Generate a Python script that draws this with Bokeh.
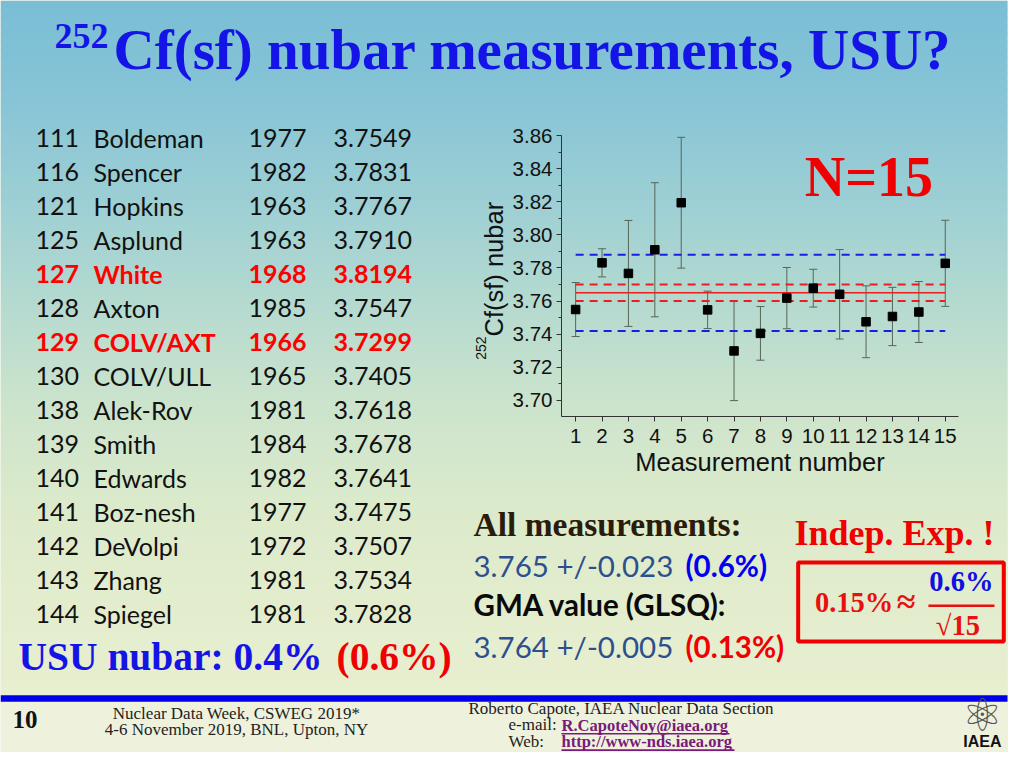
import math
from bokeh.plotting import figure
from bokeh.models import (Range1d, FixedTicker, Label, BoxAnnotation, Whisker,
                          TeeHead, ColumnDataSource, NumeralTickFormatter)
from bokeh.embed import file_html
from bokeh.resources import INLINE

# ---------------- data ----------------
ids = ["111", "116", "121", "125", "127", "128", "129", "130", "138", "139",
       "140", "141", "142", "143", "144"]
names = ["Boldeman", "Spencer", "Hopkins", "Asplund", "White", "Axton", "COLV/AXT",
         "COLV/ULL", "Alek-Rov", "Smith", "Edwards", "Boz-nesh", "DeVolpi", "Zhang",
         "Spiegel"]
years = [1977, 1982, 1963, 1963, 1968, 1985, 1966, 1965, 1981, 1984, 1982, 1977,
         1972, 1981, 1981]
nubar = [3.7549, 3.7831, 3.7767, 3.7910, 3.8194, 3.7547, 3.7299, 3.7405, 3.7618,
         3.7678, 3.7641, 3.7475, 3.7507, 3.7534, 3.7828]
highlight_ids = ["127", "129"]
meas = [1, 2, 3, 4, 5, 6, 7, 8, 9, 10, 11, 12, 13, 14, 15]
errors = [0.0163, 0.0085, 0.0320, 0.0405, 0.0395, 0.0113, 0.0300, 0.0162, 0.0185,
          0.0114, 0.0270, 0.0217, 0.0176, 0.0184, 0.0260]
MEAN = 3.765
UNC_ALL = 0.023
UNC_GMA = 0.005
y_ticks = [3.70, 3.72, 3.74, 3.76, 3.78, 3.80, 3.82, 3.84, 3.86]
y_minor = [3.71, 3.73, 3.75, 3.77, 3.79, 3.81, 3.83, 3.85]
X_LIM = (0.465, 15.49)
Y_LIM = (3.6903, 3.86)

# ---------------- layout ----------------
W, H = 1008, 752
KX = (W - 1 - 780) / (1024 - 780)
KY = (H - 690) / (768 - 690)
BASE_FIX = 0.39   # label anchor correction (fraction of font size)


def X(r):
    return r if r <= 780 else 780 + (r - 780) * KX


def Y(r):
    return r if r <= 690 else 690 + (r - 690) * KY


CL, CR, CT, CB = X(561), X(971), Y(135), Y(416)
kx = (X_LIM[1] - X_LIM[0]) / (CR - CL)
ky = (Y_LIM[1] - Y_LIM[0]) / (CB - CT)
x_range = Range1d(X_LIM[0] - CL * kx, X_LIM[1] + (W - CR) * kx)
y_range = Range1d(Y_LIM[0] - (H - CB) * ky, Y_LIM[1] + CT * ky)

RED = "#F00000"
BLUE = "#1414E6"
ERR = "#566656"
FOOT = "#EEF2DD"
LINK = "#7A1A7A"

p = figure(width=W, height=H, output_backend="svg", toolbar_location=None,
           x_range=x_range, y_range=y_range, min_border=0)
p.xgrid.visible = False
p.ygrid.visible = False
p.outline_line_color = None
p.background_fill_color = FOOT
p.border_fill_color = FOOT


def box(l, t, r, b, fill=None, line=None, lw=0, level="annotation"):
    p.add_layout(BoxAnnotation(left=X(l), right=X(r), top=H - Y(t), bottom=H - Y(b),
                               left_units="screen", right_units="screen",
                               top_units="screen", bottom_units="screen",
                               fill_color=fill, fill_alpha=1.0,
                               line_color=line, line_alpha=1.0, line_width=lw,
                               level=level))


def put(text, x, y, size, color, font="Lato", style="normal", align="left",
        angle=0.0):
    d = BASE_FIX * size
    sx = X(x) - math.sin(angle) * d
    sy = H - Y(y) + math.cos(angle) * d
    p.add_layout(Label(x=sx, y=sy, x_units="screen", y_units="screen",
                       text=text, text_font=font, text_font_size=f"{size:.1f}px",
                       text_font_style=style, text_color=color, text_align=align,
                       text_baseline="alphabetic", text_line_height=1.0,
                       angle=angle))


# background gradient (style)
stops = [(0, (122, 190, 214)), (100, (136, 197, 214)), (200, (157, 207, 212)),
         (300, (181, 218, 208)), (400, (204, 228, 204)), (500, (219, 234, 203)),
         (600, (227, 237, 205)), (697, (232, 239, 208))]
yy = 0
while yy < 697:
    for (y0, c0), (y1, c1) in zip(stops[:-1], stops[1:]):
        if y0 <= yy <= y1:
            t = (yy - y0) / (y1 - y0)
            col = tuple(int(round(a + (b - a) * t)) for a, b in zip(c0, c1))
            break
    box(0, yy, 1024, min(yy + 9, 697), fill="#%02x%02x%02x" % col, level="image")
    yy += 8
box(0, 696, 1024, 704, fill="#0000E8", level="image")

# ---------------- chart ----------------
p.yaxis.ticker = FixedTicker(ticks=y_ticks, minor_ticks=y_minor)
p.yaxis.formatter = NumeralTickFormatter(format="0.00")
p.xaxis.ticker = FixedTicker(ticks=meas, minor_ticks=[])
p.yaxis.fixed_location = X_LIM[0]
p.yaxis.bounds = Y_LIM
p.xaxis.fixed_location = Y_LIM[0]
p.xaxis.bounds = X_LIM
for ax in (p.xaxis, p.yaxis):
    ax.major_tick_out = 5
    ax.major_tick_in = 0
    ax.minor_tick_out = 3
    ax.minor_tick_in = 0
    ax.axis_line_color = "#333333"
    ax.major_tick_line_color = "#333333"
    ax.minor_tick_line_color = "#333333"
    ax.major_label_text_font = "Liberation Sans"
    ax.major_label_text_font_size = "20.5px"
    ax.major_label_text_color = "#111111"
p.yaxis.major_label_standoff = 4
p.xaxis.major_label_standoff = 7
p.xaxis.axis_label = "Measurement number"
p.xaxis.axis_label_text_font = "Liberation Sans"
p.xaxis.axis_label_text_font_style = "normal"
p.xaxis.axis_label_text_font_size = "25.5px"
p.xaxis.axis_label_text_color = "#111111"
p.xaxis.axis_label_standoff = 2

src = ColumnDataSource(dict(x=meas, y=nubar,
                            upper=[v + e for v, e in zip(nubar, errors)],
                            lower=[v - e for v, e in zip(nubar, errors)]))
p.add_layout(Whisker(source=src, base="x", upper="upper", lower="lower",
                     dimension="height", line_color=ERR, line_width=1,
                     upper_head=TeeHead(size=8, line_color=ERR, line_width=1),
                     lower_head=TeeHead(size=8, line_color=ERR, line_width=1),
                     level="underlay"))

xs = [meas[0], meas[-1]]
p.line(xs, [MEAN, MEAN], line_color="#EE1C1C", line_width=1.5)
for off in (UNC_GMA, -UNC_GMA):
    p.line(xs, [MEAN + off] * 2, line_color="#EE1C1C", line_width=2, line_dash="8 6")
for off in (UNC_ALL, -UNC_ALL):
    p.line(xs, [MEAN + off] * 2, line_color="#1C1CE6", line_width=2, line_dash="8 6")
sq = p.scatter("x", "y", source=src, marker="square", size=8.5, color="black")
sq.level = "overlay"

# y axis label (rotated, with superscript)
put("Cf(sf) nubar", 503, 336, 25.5, "#111111", font="Liberation Sans", angle=math.pi / 2)
put("252", 486, 336, 14, "#111111", font="Liberation Sans", align="right",
    angle=math.pi / 2)

# ---------------- slide texts ----------------
put("252", 54, 50, 36, BLUE, font="Liberation Serif", style="bold")
put("Cf(sf) nubar measurements, USU?", 113, 71, 57, BLUE, font="Liberation Serif",
    style="bold")

for i, (a, n, yr, v) in enumerate(zip(ids, names, years, nubar)):
    hl = a in highlight_ids
    col = "#FF0000" if hl else "#111111"
    st = "bold" if hl else "normal"
    yb = 147 + i * 34.0
    put(a, 35, yb, 25, col, style=st)
    put(n, 93, yb, 25, col, style=st)
    put(str(yr), 248, yb, 25, col, style=st)
    put(f"{v:.4f}", 333, yb, 25, col, style=st)

put("USU nubar: 0.4%", 18, 672, 39.5, BLUE, font="Liberation Serif", style="bold")
put("(0.6%)", 336, 672, 39.5, RED, font="Liberation Serif", style="bold")

put("All measurements:", 473, 537, 33.5, "#2B1B0B", font="Liberation Serif", style="bold")
put("3.765 +/-0.023", 473, 577, 29.5, "#2E4F8E")
put("(0.6%)", 685, 577, 29.5, "#0000F0", style="bold")
put("GMA value (GLSQ):", 473, 616, 29.5, "#0A0A0A", style="bold")
put("3.764 +/-0.005", 473, 658, 29.5, "#2E4F8E")
put("(0.13%)", 685, 658, 29.5, RED, style="bold")

put("N=15", 806, 198, 56, RED, font="Liberation Serif", style="bold")
put("Indep. Exp. !", 795, 547, 36, RED, font="Liberation Serif", style="bold")
box(799, 562, 1020, 641, fill=None, line=RED, lw=4)
put("0.15%", 817, 613, 28.5, "#E81010", font="Liberation Serif", style="bold")
put("≈", 905, 614, 34, "#E81010", font="Liberation Serif", style="bold")
put("0.6%", 940, 592, 28.5, "#1010E0", font="Liberation Serif", style="bold")
box(939, 604, 1010, 606.5, fill="#E81010")
put("√15", 947, 636, 28.5, "#E81010", font="Liberation Serif", style="bold")

# ---------------- footer ----------------
put("10", 12, 739, 25, "#111111", font="Liberation Serif", style="bold")
put("Nuclear Data Week, CSWEG 2019*", 236, 727, 17, "#222222",
    font="Liberation Serif", align="center")
put("4-6 November 2019, BNL, Upton, NY", 236, 748, 17, "#222222",
    font="Liberation Serif", align="center")
put("Roberto Capote, IAEA Nuclear Data Section", 468, 720.5, 17, "#222222",
    font="Liberation Serif")
put("e-mail:", 508, 741.5, 17, "#222222", font="Liberation Serif")
put("R.CapoteNoy@iaea.org", 561, 741.5, 16.5, LINK, font="Liberation Serif",
    style="bold")
box(561, 743.5, 729, 745.5, fill=LINK)
put("Web:", 508, 762, 17, "#222222", font="Liberation Serif")
put("http://www-nds.iaea.org", 561, 762, 16.5, LINK, font="Liberation Serif",
    style="bold")
box(561, 764, 734, 766, fill=LINK)
put("⚛", 997, 744, 46, "#555555", font="DejaVu Sans", align="center")
put("IAEA", 997, 761.5, 16, "#111111", font="Liberation Sans", style="bold",
    align="center")

open("out.html", "w").write(file_html(p, INLINE))
